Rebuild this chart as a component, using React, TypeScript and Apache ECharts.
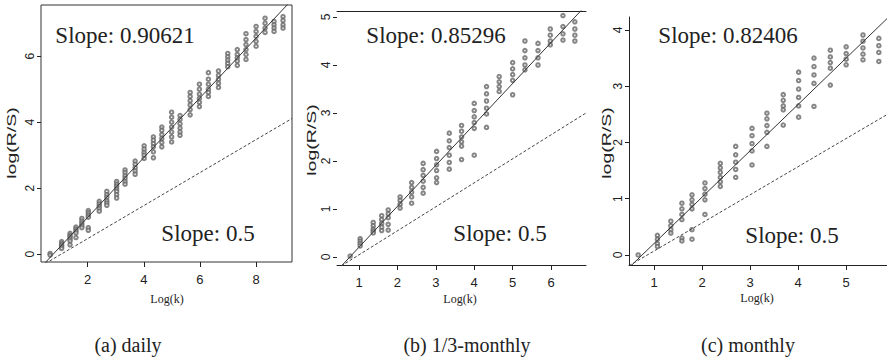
import React, { useEffect, useRef } from "react";
import * as echarts from "echarts";

// ---------- data ----------
const dailyLogK = [0.66, 1.07, 1.37, 1.58, 1.79, 2.02, 2.41, 2.68, 3.03, 3.33, 3.69, 4.01, 4.34, 4.64, 4.99, 5.29, 5.65, 5.98, 6.3, 6.66, 6.99, 7.33, 7.64, 8.0, 8.32, 8.64, 8.96];
const dailyLogRS = [
  [0.02, -0.03],
  [0.38, 0.32, 0.27, 0.22, 0.17],
  [0.63, 0.57, 0.52, 0.46, 0.4, 0.28],
  [0.82, 0.76, 0.7, 0.64, 0.5],
  [1.08, 1.0, 0.93, 0.86, 0.8],
  [1.32, 1.25, 1.18, 1.12, 0.8, 0.72],
  [1.6, 1.52, 1.45, 1.38, 1.3],
  [1.9, 1.8, 1.72, 1.62, 1.55, 1.48],
  [2.2, 2.12, 2.05, 1.97, 1.9, 1.8, 1.7],
  [2.55, 2.47, 2.38, 2.3, 2.2, 2.12],
  [2.82, 2.72, 2.62, 2.52, 2.42],
  [3.28, 3.18, 3.08, 3.0, 2.9],
  [3.55, 3.45, 3.35, 3.25, 3.1, 2.92],
  [3.85, 3.75, 3.62, 3.5, 3.38, 3.25],
  [4.3, 4.15, 4.0, 3.85, 3.7, 3.55, 3.4],
  [4.2, 4.08, 3.95, 3.82, 3.7, 3.6],
  [4.9, 4.78, 4.65, 4.52, 4.38, 4.22],
  [5.15, 5.0, 4.85, 4.72, 4.6, 4.47],
  [5.5, 5.3, 5.15, 5.0, 4.9, 4.78],
  [5.55, 5.42, 5.3, 5.18, 5.05],
  [6.08, 5.98, 5.88, 5.78, 5.68],
  [6.2, 6.05, 5.95, 5.85, 5.72],
  [6.68, 6.5, 6.35, 6.2, 6.05, 5.9],
  [6.9, 6.75, 6.6, 6.45, 6.3],
  [7.15, 7.0, 6.85, 6.72],
  [7.05, 6.95, 6.85, 6.75],
  [7.2, 7.08, 6.95, 6.85],
];

const thirdLogK = [0.77, 1.03, 1.37, 1.59, 1.76, 2.07, 2.37, 2.67, 3.02, 3.35, 3.67, 4.0, 4.32, 4.65, 5.0, 5.32, 5.66, 5.98, 6.31, 6.62];
const thirdLogRS = [
  [0.02],
  [0.38, 0.33, 0.28, 0.23],
  [0.72, 0.65, 0.58, 0.54, 0.5],
  [0.86, 0.78, 0.7, 0.62, 0.55],
  [0.98, 0.9, 0.82, 0.68, 0.56],
  [1.25, 1.18, 1.1, 1.02],
  [1.55, 1.45, 1.35, 1.25, 1.12],
  [1.95, 1.82, 1.7, 1.58, 1.45, 1.33],
  [2.2, 2.05, 1.92, 1.8, 1.65, 1.55],
  [2.58, 2.42, 2.28, 2.12, 1.97, 1.83],
  [2.74, 2.62, 2.5, 2.4, 2.31, 2.03],
  [3.2, 3.05, 2.92, 2.8, 2.68, 2.12],
  [3.55, 3.4, 3.25, 3.1, 2.98, 2.7],
  [3.76, 3.65, 3.55, 3.45],
  [4.05, 3.92, 3.8, 3.68, 3.38],
  [4.5, 4.3, 4.15, 4.0, 3.9],
  [4.45, 4.3, 4.15, 4.0],
  [4.75, 4.62, 4.5, 4.42],
  [5.03, 4.8, 4.65, 4.52],
  [4.9, 4.75, 4.62, 4.5],
];

const monthlyLogK = [0.67, 1.07, 1.35, 1.58, 1.79, 2.06, 2.38, 2.7, 3.04, 3.35, 3.69, 4.01, 4.33, 4.67, 5.0, 5.35, 5.68];
const monthlyLogRS = [
  [0.0],
  [0.35, 0.28, 0.2, 0.15],
  [0.6, 0.52, 0.45, 0.39],
  [0.92, 0.82, 0.72, 0.63, 0.3, 0.25],
  [1.07, 0.98, 0.9, 0.82, 0.45, 0.28],
  [1.28, 1.18, 1.08, 0.98, 0.72],
  [1.63, 1.55, 1.47, 1.38, 1.3, 1.22],
  [1.93, 1.78, 1.65, 1.52, 1.38],
  [2.25, 2.12, 1.98, 1.85, 1.6],
  [2.52, 2.42, 2.3, 2.18, 1.93],
  [2.85, 2.75, 2.65, 2.58, 2.31],
  [3.25, 3.1, 2.95, 2.8, 2.65, 2.45],
  [3.5, 3.35, 3.2, 3.05, 2.64],
  [3.64, 3.52, 3.42, 3.32, 3.02],
  [3.7, 3.58, 3.48, 3.38],
  [3.91, 3.8, 3.68, 3.57, 3.47],
  [3.85, 3.72, 3.6, 3.44],
];

// fitted lines: [slope, intercept]
const dailyFit = [0.90621, -0.7];
const thirdFit = [0.85296, -0.65];
const monthlyFit = [0.82406, -0.62];
const dailyHalf = [0.5, -0.53];
const thirdHalf = [0.5, -0.455];
const monthlyHalf = [0.5, -0.43];

const dailyXTicks = [2, 4, 6, 8];
const dailyYTicks = [0, 2, 4, 6];
const thirdXTicks = [1, 2, 3, 4, 5, 6];
const thirdYTicks = [0, 1, 2, 3, 4, 5];
const monthlyXTicks = [1, 2, 3, 4, 5];
const monthlyYTicks = [0, 1, 2, 3, 4];

const slopeLabels = ["Slope: 0.90621", "Slope: 0.85296", "Slope: 0.82406"];
const halfLabel = "Slope: 0.5";
const captions = ["(a) daily", "(b) 1/3-monthly", "(c) monthly"];
const yName = "log(R/S)";
const xName = "Log(k)";

// ---------- layout ----------
const SANS = "'Liberation Sans', Arial, sans-serif";
const SERIF = "'Liberation Serif', 'Times New Roman', serif";
const INK = "#222";

const panels = [
  { grid: { left: 41, top: 5, width: 251, height: 257 }, x: [0.335, 9.28], y: [-0.24, 7.55], xt: dailyXTicks, yt: dailyYTicks, k: dailyLogK, rs: dailyLogRS, fit: dailyFit, half: dailyHalf, border: true, top: false, left: false, bottom: false },
  { grid: { left: 337, top: 11, width: 249, height: 254 }, x: [0.427, 6.91], y: [-0.167, 5.125], xt: thirdXTicks, yt: thirdYTicks, k: thirdLogK, rs: thirdLogRS, fit: thirdFit, half: thirdHalf, border: false, top: true, left: false, bottom: true },
  { grid: { left: 629, top: 17, width: 258, height: 248 }, x: [0.479, 5.85], y: [-0.178, 4.23], xt: monthlyXTicks, yt: monthlyYTicks, k: monthlyLogK, rs: monthlyLogRS, fit: monthlyFit, half: monthlyHalf, border: false, top: false, left: true, bottom: true },
];

function buildOption() {
  const grid: any[] = [];
  const xAxis: any[] = [];
  const yAxis: any[] = [];
  const series: any[] = [];
  panels.forEach((p, i) => {
    grid.push({ ...p.grid, show: p.border, borderColor: "#333", borderWidth: 1, backgroundColor: "transparent" });
    xAxis.push({
      type: "value", gridIndex: i, min: p.x[0], max: p.x[1],
      axisLine: { show: p.bottom, onZero: false, lineStyle: { color: INK, width: 1 } },
      axisTick: { show: true, length: 5, customValues: p.xt, lineStyle: { color: INK } },
      axisLabel: { customValues: p.xt, margin: 11, fontSize: 13, color: INK, fontFamily: SANS },
      splitLine: { show: false },
    });
    yAxis.push({
      type: "value", gridIndex: i, min: p.y[0], max: p.y[1],
      axisLine: { show: p.left, onZero: false, lineStyle: { color: INK, width: 1 } },
      axisTick: { show: true, length: 4, customValues: p.yt, lineStyle: { color: INK } },
      axisLabel: { customValues: p.yt, rotate: 90, margin: 5, fontSize: 12, color: INK, fontFamily: SANS },
      splitLine: { show: false },
    });
    const pts: number[][] = [];
    p.k.forEach((x, j) => p.rs[j].forEach((y) => pts.push([x, y])));
    series.push({
      type: "scatter", xAxisIndex: i, yAxisIndex: i, data: pts,
      symbol: "emptyCircle", symbolSize: 3.5,
      itemStyle: { color: "#666", borderColor: "#666", borderWidth: 0.7 },
      silent: true,
    });
    const lineData = (f: number[]) => [
      [p.x[0], f[0] * p.x[0] + f[1]],
      [p.x[1], f[0] * p.x[1] + f[1]],
    ];
    series.push({
      type: "line", xAxisIndex: i, yAxisIndex: i, data: lineData(p.fit), clip: true,
      symbol: "none", lineStyle: { color: "#333", width: 1 }, silent: true,
    });
    series.push({
      type: "line", xAxisIndex: i, yAxisIndex: i, data: lineData(p.half), clip: true,
      symbol: "none", lineStyle: { color: "#444", width: 1, type: [3, 2] }, silent: true,
    });
  });
  // top border line for panel b
  xAxis.push({
    type: "value", gridIndex: 1, position: "top", min: panels[1].x[0], max: panels[1].x[1],
    axisLine: { show: true, onZero: false, lineStyle: { color: INK, width: 1 } },
    axisTick: { show: false }, axisLabel: { show: false }, splitLine: { show: false },
  });

  const txt = (text: string, x: number, y: number, font: string, extra: any = {}) => ({
    type: "text", x, y, silent: true, ...extra,
    style: { text, font, fill: INK, align: "center", verticalAlign: "middle" },
  });

  const graphic: any[] = [
    txt(slopeLabels[0], 125, 35, `23px ${SERIF}`),
    txt(halfLabel, 208, 233, `23px ${SERIF}`),
    txt(slopeLabels[1], 436, 35, `23px ${SERIF}`),
    txt(halfLabel, 500, 233, `23px ${SERIF}`),
    txt(slopeLabels[2], 728, 35, `23px ${SERIF}`),
    txt(halfLabel, 792, 235, `23px ${SERIF}`),
    txt(yName, 12, 143, `13px ${SANS}`, { rotation: Math.PI / 2, scaleX: 1.5 }),
    txt(yName, 312, 140, `13px ${SANS}`, { rotation: Math.PI / 2, scaleX: 1.5 }),
    txt(yName, 607, 143, `13px ${SANS}`, { rotation: Math.PI / 2, scaleX: 1.5 }),
    txt(xName, 167, 299, `12px ${SERIF}`),
    txt(xName, 460, 299, `12px ${SERIF}`),
    txt(xName, 757, 298, `12px ${SERIF}`),
    txt(captions[0], 128, 345, `20px ${SERIF}`),
    txt(captions[1], 467, 345, `20px ${SERIF}`),
    txt(captions[2], 748, 345, `20px ${SERIF}`),
  ];

  return { animation: false, backgroundColor: "#fff", grid, xAxis, yAxis, series, graphic };
}

export default function App() {
  const ref = useRef<HTMLDivElement>(null);
  useEffect(() => {
    if (!ref.current) return;
    const chart = echarts.init(ref.current, undefined, { renderer: "svg" });
    chart.setOption(buildOption() as any);
    return () => chart.dispose();
  }, []);
  return (
    <div
      ref={ref}
      style={{ position: "fixed", left: 0, top: 0, width: 887, height: 361, background: "#fff" }}
    />
  );
}
